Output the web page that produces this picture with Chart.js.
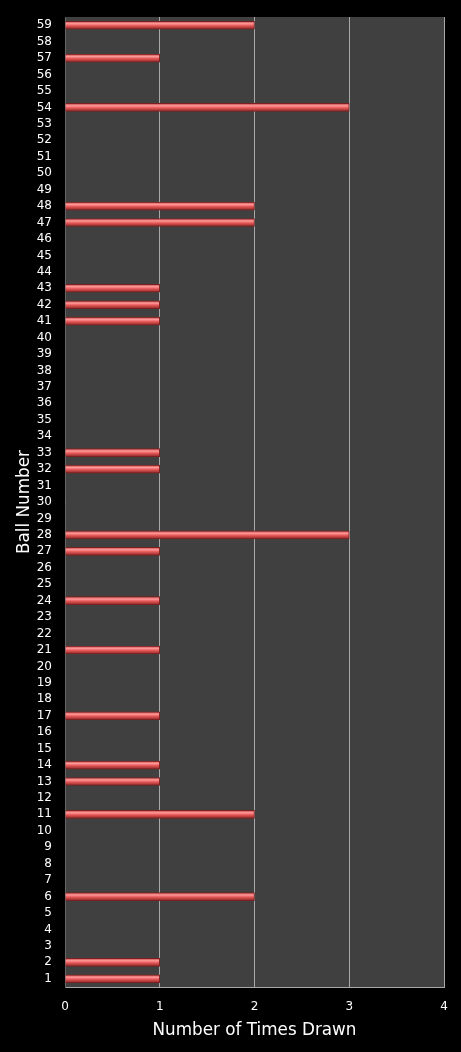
<!DOCTYPE html>
<html>
<head>
<meta charset="utf-8">
<script src="https://cdn.jsdelivr.net/npm/chart.js@4/dist/chart.umd.min.js"></script>
<style>
  html, body { margin: 0; padding: 0; background: #000; }
  #wrap { width: 461px; height: 1052px; }
</style>
</head>
<body>
<div id="wrap"><canvas id="c" width="461" height="1052"></canvas></div>
<script>
// Números de bola 1..59
const balls = Array.from({ length: 59 }, (_, i) => String(i + 1));
// Veces que salió cada bola
const drawn = {
  1: 1, 2: 1, 6: 2, 11: 2, 13: 1, 14: 1, 17: 1, 21: 1, 24: 1, 27: 1, 28: 3,
  32: 1, 33: 1, 41: 1, 42: 1, 43: 1, 47: 2, 48: 2, 54: 3, 57: 1, 59: 2,
};
const timesDrawn = balls.map((b) => drawn[b] || 0);
const xTicks = [0, 1, 2, 3, 4];

// Fondo negro y zona del gráfico gris
const bgPlugin = {
  id: "bg",
  beforeDraw(chart) {
    const { ctx, chartArea: a } = chart;
    ctx.save();
    ctx.fillStyle = "#000";
    ctx.fillRect(0, 0, chart.width, chart.height);
    ctx.fillStyle = "#404040";
    ctx.fillRect(a.left, a.top, a.right - a.left, a.bottom - a.top);
    ctx.restore();
  },
};

// Degradado rojo para cada barra (efecto tubo)
function barFill(c) {
  const chart = c.chart;
  if (!chart.chartArea) return "#e05555";
  const y = chart.scales.y.getPixelForValue(c.dataIndex);
  const g = chart.ctx.createLinearGradient(0, y - 4, 0, y + 4);
  g.addColorStop(0, "#c04545");
  g.addColorStop(0.3, "#ff9a9a");
  g.addColorStop(0.55, "#e85a5a");
  g.addColorStop(1, "#8a2525");
  return g;
}

const font = "'DejaVu Sans', Verdana, sans-serif";

new Chart(document.getElementById("c"), {
  type: "bar",
  data: {
    labels: balls,
    datasets: [{
      data: timesDrawn,
      backgroundColor: barFill,
      borderColor: "#7a2020",
      borderWidth: 1,
      borderSkipped: "start",
      barThickness: 8,
    }],
  },
  options: {
    indexAxis: "y",
    responsive: false,
    animation: false,
    devicePixelRatio: 1,
    layout: { padding: { top: 17, right: 17, left: 0, bottom: 0 } },
    plugins: { legend: { display: false }, tooltip: { enabled: false } },
    scales: {
      x: {
        min: 0,
        max: 4,
        afterBuildTicks: (s) => { s.ticks = xTicks.map((v) => ({ value: v })); },
        afterFit: (s) => { s.height = 65; s.paddingLeft = 0; s.paddingRight = 0; },
        grid: { color: "#a8a8a8", lineWidth: 1, drawTicks: false },
        border: { display: true, color: "#a8a8a8" },
        ticks: { color: "#fff", font: { family: font, size: 12 }, padding: 13 },
        title: {
          display: true,
          text: "Number of Times Drawn",
          color: "#fff",
          font: { family: font, size: 16.8 },
          padding: { top: 0, bottom: 11 },
        },
      },
      y: {
        reverse: true,
        afterFit: (s) => { s.width = 65; s.paddingTop = 0; s.paddingBottom = 0; },
        grid: { display: false, drawTicks: false },
        border: { display: true, color: "#666" },
        ticks: {
          color: "#fff",
          font: { family: font, size: 12 },
          padding: 13,
          autoSkip: false,
        },
        title: {
          display: true,
          text: "Ball Number",
          color: "#fff",
          font: { family: font, size: 16.8 },
          padding: { top: 15, bottom: 0 },
        },
      },
    },
  },
  plugins: [bgPlugin],
});
</script>
</body>
</html>
